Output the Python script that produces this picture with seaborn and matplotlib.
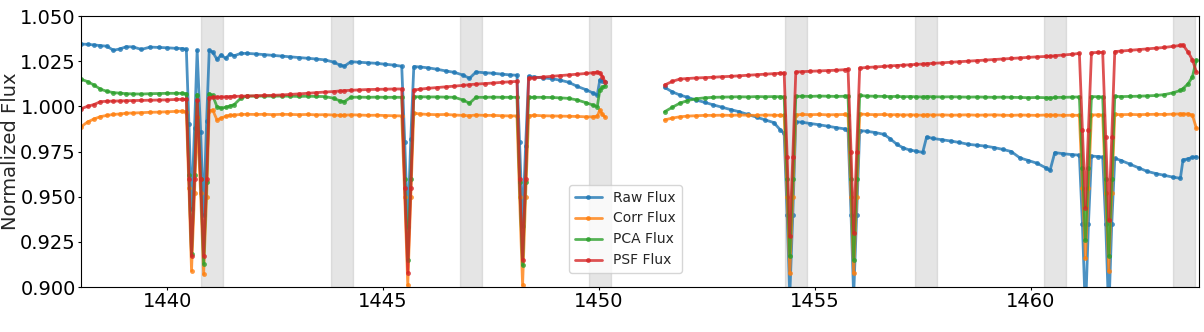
import numpy as np
import pandas as pd
import matplotlib
matplotlib.use("Agg")
import matplotlib.pyplot as plt
import seaborn as sns
from matplotlib.lines import Line2D
from matplotlib.ticker import FormatStrFormatter

# ---------------- data ----------------
SERIES = ["Raw Flux", "Corr Flux", "PCA Flux", "PSF Flux"]

TIME_1 = [1438.00, 1438.15, 1438.30, 1438.45, 1438.60, 1438.75, 1438.90, 1439.05, 1439.20, 1439.40,
          1439.60, 1439.80, 1440.00, 1440.20, 1440.35, 1440.44, 1440.50, 1440.56, 1440.63, 1440.69,
          1440.77, 1440.84, 1440.91, 1440.97, 1441.05, 1441.15, 1441.25, 1441.35, 1441.45, 1441.55,
          1441.70, 1441.85, 1442.05, 1442.25, 1442.45, 1442.65, 1442.85, 1443.05, 1443.25, 1443.45,
          1443.65, 1443.85, 1444.00, 1444.10, 1444.25, 1444.45, 1444.65, 1444.85, 1445.05, 1445.25,
          1445.43, 1445.50, 1445.57, 1445.64, 1445.71, 1445.85, 1446.05, 1446.25, 1446.45, 1446.65,
          1446.85, 1447.00, 1447.15, 1447.35, 1447.55, 1447.75, 1447.95, 1448.10, 1448.16, 1448.23,
          1448.30, 1448.37, 1448.50, 1448.70, 1448.90, 1449.10, 1449.30, 1449.50, 1449.70, 1449.85,
          1449.96, 1450.02, 1450.08, 1450.14]

RAW_1 = [1.0345, 1.0343, 1.0340, 1.0336, 1.0333, 1.0310, 1.0318, 1.0330, 1.0329, 1.0315,
         1.0328, 1.0326, 1.0324, 1.0321, 1.0320, 1.0315, 0.9900, 0.9430, 0.9880, 1.0310,
         0.9860, 0.9400, 0.9920, 1.0310, 1.0300, 1.0260, 1.0285, 1.0265, 1.0290, 1.0280,
         1.0293, 1.0293, 1.0290, 1.0286, 1.0282, 1.0278, 1.0274, 1.0270, 1.0266, 1.0262,
         1.0257, 1.0245, 1.0228, 1.0222, 1.0247, 1.0244, 1.0241, 1.0238, 1.0233, 1.0228,
         1.0222, 0.9800, 0.9330, 0.9820, 1.0220, 1.0218, 1.0213, 1.0205, 1.0196, 1.0188,
         1.0173, 1.0155, 1.0190, 1.0186, 1.0183, 1.0178, 1.0174, 1.0172, 0.9800, 0.9340,
         0.9780, 1.0166, 1.0162, 1.0158, 1.0153, 1.0145, 1.0133, 1.0110, 1.0092, 1.0075,
         1.0063, 1.0146, 1.0140, 1.0137]

CORR_1 = [0.9887, 0.9913, 0.9930, 0.9943, 0.9950, 0.9955, 0.9958, 0.9962, 0.9963, 0.9965,
          0.9967, 0.9968, 0.9970, 0.9972, 0.9973, 0.9970, 0.9550, 0.9090, 0.9520, 0.9940,
          0.9520, 0.9070, 0.9500, 0.9975, 0.9980, 0.9925, 0.9935, 0.9945, 0.9950, 0.9952,
          0.9955, 0.9956, 0.9955, 0.9956, 0.9954, 0.9956, 0.9955, 0.9954, 0.9955, 0.9953,
          0.9954, 0.9952, 0.9950, 0.9951, 0.9953, 0.9952, 0.9950, 0.9951, 0.9949, 0.9948,
          0.9947, 0.9500, 0.9010, 0.9500, 0.9962, 0.9958, 0.9955, 0.9954, 0.9955, 0.9952,
          0.9950, 0.9948, 0.9952, 0.9950, 0.9950, 0.9948, 0.9947, 0.9947, 0.9500, 0.9010,
          0.9500, 0.9948, 0.9950, 0.9948, 0.9947, 0.9946, 0.9945, 0.9944, 0.9942, 0.9942,
          0.9945, 0.9980, 0.9955, 0.9941]

PCA_1 = [1.0150, 1.0137, 1.0118, 1.0095, 1.0083, 1.0076, 1.0073, 1.0070, 1.0069, 1.0068,
         1.0070, 1.0071, 1.0072, 1.0072, 1.0072, 1.0070, 0.9620, 0.9180, 0.9620, 1.0065,
         0.9600, 0.9130, 0.9580, 1.0070, 1.0060, 0.9998, 0.9990, 0.9995, 1.0002, 1.0010,
         1.0045, 1.0057, 1.0056, 1.0057, 1.0056, 1.0057, 1.0056, 1.0055, 1.0056, 1.0055,
         1.0054, 1.0045, 1.0030, 1.0026, 1.0050, 1.0051, 1.0050, 1.0051, 1.0050, 1.0050,
         1.0050, 0.9600, 0.9150, 0.9600, 1.0053, 1.0053, 1.0052, 1.0052, 1.0051, 1.0050,
         1.0035, 1.0017, 1.0050, 1.0050, 1.0051, 1.0050, 1.0050, 1.0050, 0.9580, 0.9120,
         0.9580, 1.0050, 1.0050, 1.0050, 1.0049, 1.0047, 1.0044, 1.0035, 1.0020, 1.0008,
         0.9998, 1.0091, 1.0105, 1.0113]

PSF_1 = [0.9987, 1.0000, 1.0010, 1.0026, 1.0028, 1.0029, 1.0030, 1.0031, 1.0032, 1.0033,
         1.0034, 1.0035, 1.0036, 1.0038, 1.0039, 1.0038, 0.9600, 0.9170, 0.9600, 1.0035,
         0.9600, 0.9170, 0.9600, 1.0048, 1.0050, 1.0051, 1.0052, 1.0053, 1.0054, 1.0055,
         1.0056, 1.0057, 1.0059, 1.0060, 1.0061, 1.0063, 1.0066, 1.0069, 1.0072, 1.0076,
         1.0079, 1.0082, 1.0085, 1.0087, 1.0089, 1.0091, 1.0093, 1.0094, 1.0095, 1.0096,
         1.0096, 0.9550, 0.9080, 0.9550, 1.0090, 1.0095, 1.0100, 1.0104, 1.0108, 1.0112,
         1.0116, 1.0120, 1.0123, 1.0126, 1.0129, 1.0133, 1.0136, 1.0138, 0.9600, 0.9150,
         0.9600, 1.0155, 1.0158, 1.0162, 1.0166, 1.0170, 1.0174, 1.0178, 1.0182, 1.0186,
         1.0188, 1.0186, 1.0165, 1.0137]

TIME_2 = [1451.52, 1451.70, 1451.87, 1452.05, 1452.25, 1452.45, 1452.65, 1452.85, 1453.05, 1453.25,
          1453.45, 1453.65, 1453.85, 1454.05, 1454.20, 1454.29, 1454.36, 1454.42, 1454.49, 1454.56,
          1454.70, 1454.90, 1455.10, 1455.30, 1455.50, 1455.70, 1455.77, 1455.84, 1455.90, 1455.97,
          1456.04, 1456.20, 1456.40, 1456.60, 1456.75, 1456.90, 1457.05, 1457.20, 1457.35, 1457.50,
          1457.59, 1457.75, 1457.95, 1458.15, 1458.35, 1458.55, 1458.75, 1458.95, 1459.15, 1459.35,
          1459.55, 1459.75, 1459.95, 1460.15, 1460.35, 1460.45, 1460.56, 1460.75, 1460.95, 1461.13,
          1461.20, 1461.27, 1461.34, 1461.41, 1461.55, 1461.67, 1461.74, 1461.81, 1461.88, 1461.95,
          1462.10, 1462.30, 1462.50, 1462.70, 1462.90, 1463.10, 1463.30, 1463.47, 1463.53, 1463.65,
          1463.75, 1463.84]

RAW_2 = [1.0105, 1.0080, 1.0063, 1.0050, 1.0035, 1.0022, 1.0008, 0.9995, 0.9982, 0.9970,
         0.9955, 0.9940, 0.9925, 0.9910, 0.9870, 0.9850, 0.9400, 0.8950, 0.9400, 0.9915,
         0.9912, 0.9905, 0.9898, 0.9890, 0.9882, 0.9875, 0.9870, 0.9400, 0.8950, 0.9400,
         0.9866, 0.9862, 0.9855, 0.9845, 0.9820, 0.9790, 0.9770, 0.9758, 0.9752, 0.9745,
         0.9830, 0.9822, 0.9815, 0.9808, 0.9800, 0.9790, 0.9785, 0.9780, 0.9772, 0.9762,
         0.9750, 0.9715, 0.9700, 0.9685, 0.9660, 0.9645, 0.9744, 0.9738, 0.9733, 0.9730,
         0.9350, 0.8850, 0.9350, 0.9725, 0.9722, 0.9720, 0.9350, 0.8850, 0.9350, 0.9712,
         0.9700, 0.9680, 0.9660, 0.9640, 0.9628, 0.9618, 0.9608, 0.9602, 0.9703, 0.9710,
         0.9718, 0.9721]

CORR_2 = [0.9925, 0.9935, 0.9942, 0.9946, 0.9948, 0.9950, 0.9950, 0.9951, 0.9950, 0.9952,
          0.9951, 0.9950, 0.9952, 0.9951, 0.9950, 0.9950, 0.9500, 0.9076, 0.9500, 0.9953,
          0.9955, 0.9954, 0.9955, 0.9953, 0.9954, 0.9955, 0.9953, 0.9500, 0.9076, 0.9500,
          0.9958, 0.9955, 0.9954, 0.9955, 0.9953, 0.9954, 0.9952, 0.9953, 0.9952, 0.9951,
          0.9953, 0.9952, 0.9953, 0.9951, 0.9952, 0.9953, 0.9951, 0.9952, 0.9953, 0.9951,
          0.9950, 0.9952, 0.9951, 0.9950, 0.9952, 0.9951, 0.9952, 0.9950, 0.9951, 0.9950,
          0.9550, 0.9160, 0.9550, 0.9952, 0.9953, 0.9952, 0.9520, 0.9090, 0.9520, 0.9955,
          0.9954, 0.9955, 0.9954, 0.9955, 0.9956, 0.9955, 0.9957, 0.9958, 0.9957, 0.9958,
          0.9950, 0.9879]

PCA_2 = [0.9970, 0.9995, 1.0017, 1.0032, 1.0042, 1.0047, 1.0050, 1.0051, 1.0052, 1.0053,
         1.0052, 1.0054, 1.0053, 1.0054, 1.0053, 1.0052, 0.9600, 0.9170, 0.9600, 1.0055,
         1.0056, 1.0055, 1.0057, 1.0056, 1.0055, 1.0056, 1.0055, 0.9600, 0.9150, 0.9600,
         1.0060, 1.0057, 1.0056, 1.0055, 1.0054, 1.0055, 1.0053, 1.0054, 1.0053, 1.0052,
         1.0054, 1.0053, 1.0052, 1.0053, 1.0052, 1.0051, 1.0052, 1.0051, 1.0050, 1.0051,
         1.0050, 1.0049, 1.0048, 1.0049, 1.0048, 1.0047, 1.0049, 1.0050, 1.0051, 1.0052,
         0.9660, 0.9260, 0.9660, 1.0054, 1.0053, 1.0052, 0.9600, 0.9170, 0.9600, 1.0055,
         1.0054, 1.0055, 1.0056, 1.0058, 1.0060, 1.0065, 1.0075, 1.0088, 1.0098, 1.0125,
         1.0164, 1.0257]

PSF_2 = [1.0118, 1.0138, 1.0151, 1.0154, 1.0157, 1.0159, 1.0161, 1.0164, 1.0166, 1.0169,
         1.0172, 1.0175, 1.0178, 1.0181, 1.0183, 1.0184, 0.9720, 0.9280, 0.9720, 1.0190,
         1.0192, 1.0194, 1.0196, 1.0198, 1.0200, 1.0203, 1.0205, 0.9750, 0.9300, 0.9750,
         1.0212, 1.0215, 1.0218, 1.0221, 1.0224, 1.0226, 1.0228, 1.0230, 1.0232, 1.0234,
         1.0236, 1.0238, 1.0241, 1.0244, 1.0247, 1.0250, 1.0253, 1.0256, 1.0259, 1.0262,
         1.0265, 1.0268, 1.0271, 1.0274, 1.0276, 1.0277, 1.0280, 1.0284, 1.0288, 1.0293,
         0.9870, 0.9440, 0.9870, 1.0297, 1.0298, 1.0299, 0.9830, 0.9370, 0.9830, 1.0303,
         1.0306, 1.0310, 1.0314, 1.0318, 1.0322, 1.0326, 1.0332, 1.0337, 1.0340, 1.0300,
         1.0257, 1.0192]

# shaded intervals (start, end) in days
SPAN_STARTS = [1440.79, 1443.80, 1446.78, 1449.77, 1454.31, 1457.31, 1460.30, 1463.29]
SPAN_ENDS = [1441.30, 1444.31, 1447.29, 1450.28, 1454.83, 1457.82, 1460.81, 1463.80]

X_TICKS = [1440, 1445, 1450, 1455, 1460]
Y_TICKS = [0.900, 0.925, 0.950, 0.975, 1.000, 1.025, 1.050]
Y_LABEL = "Normalized Flux"

# ---------------- build long table ----------------
values = {
    "Raw Flux": (RAW_1, RAW_2),
    "Corr Flux": (CORR_1, CORR_2),
    "PCA Flux": (PCA_1, PCA_2),
    "PSF Flux": (PSF_1, PSF_2),
}
frames = []
for name in SERIES:
    v1, v2 = values[name]
    assert len(v1) == len(TIME_1), (name, len(v1), len(TIME_1))
    assert len(v2) == len(TIME_2), (name, len(v2), len(TIME_2))
    frames.append(pd.DataFrame({"time": TIME_1, "flux": v1, "series": name, "segment": 1}))
    frames.append(pd.DataFrame({"time": TIME_2, "flux": v2, "series": name, "segment": 2}))
df = pd.concat(frames, ignore_index=True)

# ---------------- plot ----------------
sns.set_style("ticks", {"axes.edgecolor": "black", "xtick.color": "black",
                        "ytick.color": "black", "axes.linewidth": 0.8})
plt.rcParams["font.family"] = ["DejaVu Sans"]

COLORS = ["#1f77b4", "#ff7f0e", "#2ca02c", "#d62728"]

fig, ax = plt.subplots(figsize=(12.04, 3.32), dpi=100)
fig.subplots_adjust(left=0.0673, right=0.9958, bottom=0.1355, top=0.9518)

for a, b in zip(SPAN_STARTS, SPAN_ENDS):
    ax.axvspan(a, b, color="grey", alpha=0.2, zorder=0)

sns.lineplot(data=df, x="time", y="flux", hue="series", hue_order=SERIES,
             palette=COLORS, units="segment", estimator=None, marker=".",
             markersize=7, markeredgewidth=0, linewidth=2.0, alpha=0.8,
             legend=False, ax=ax)

handles = [Line2D([], [], color=c, marker=".", markersize=7, markeredgewidth=0,
                  linewidth=2.0, alpha=0.8) for c in COLORS]
ax.legend(handles, SERIES, loc="lower left", bbox_to_anchor=(0.4365, 0.052),
          borderaxespad=0, fontsize=10, framealpha=0.8)

ax.set_xlim(1438.0, 1463.9)
ax.set_ylim(0.900, 1.050)
ax.set_xticks(X_TICKS)
ax.set_yticks(Y_TICKS)
ax.yaxis.set_major_formatter(FormatStrFormatter("%.3f"))
ax.tick_params(labelsize=14, direction="out", length=2.5, width=0.8, pad=1.2)
ax.set_xlabel("")
ax.set_ylabel(Y_LABEL, fontsize=14, labelpad=0)
for s in ax.spines.values():
    s.set_visible(True)

fig.savefig("out.png", dpi=100)
